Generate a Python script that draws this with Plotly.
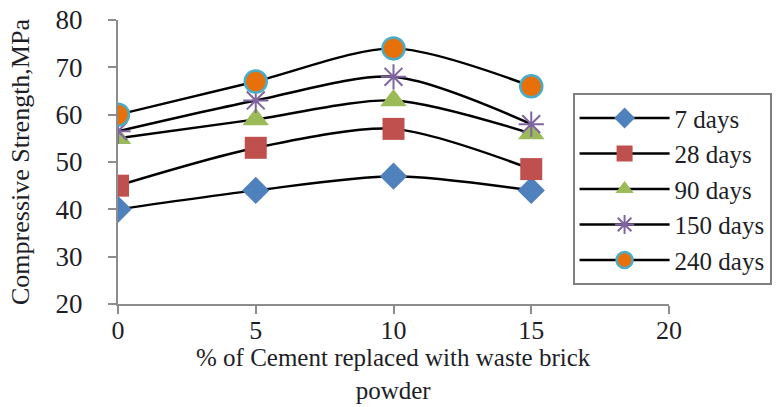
import plotly.graph_objects as go

# Cement replacement levels (%) and compressive strength (MPa) per curing age
replacement = [0, 5, 10, 15]
strength_7 = [40, 44, 47, 44]
strength_28 = [45, 53, 57, 48.5]
strength_90 = [55, 59, 63, 56]
strength_150 = [56.5, 63, 68, 58]
strength_240 = [60, 67, 74, 66]

series = [
    ("7 days", strength_7, dict(symbol="diamond", size=21, color="#4F81BD")),
    ("28 days", strength_28, dict(symbol="square", size=22, color="#C0504D")),
    ("90 days", strength_90, dict(symbol="triangle-up", size=23, color="#9BBB59")),
    ("150 days", strength_150, dict(symbol="asterisk-open", size=21, color="#8064A2",
                                    line=dict(color="#8064A2", width=2))),
    ("240 days", strength_240, dict(symbol="circle", size=22, color="#E8700A",
                                    line=dict(color="#4BACC6", width=2.5))),
]

fig = go.Figure()
for name, vals, marker in series:
    fig.add_trace(go.Scatter(
        x=replacement, y=vals, name=name, mode="lines+markers",
        line=dict(color="black", width=2.4, shape="spline", smoothing=0.8),
        marker=marker,
    ))

font_family = "Liberation Serif"
text_color = "#1e1e28"
axis_color = "#8c8c8c"

fig.update_layout(
    width=780, height=407,
    margin=dict(l=118, r=111, t=20, b=103, autoexpand=False),
    paper_bgcolor="white", plot_bgcolor="white",
    font=dict(family=font_family, size=26, color=text_color),
    showlegend=True,
    legend=dict(
        x=0.825, y=0.742, xanchor="left", yanchor="top",
        bordercolor="#7f7f7f", borderwidth=2,
        font=dict(family=font_family, size=25, color=text_color),
        itemwidth=90, tracegroupgap=0,
    ),
    xaxis=dict(
        range=[0, 20], tickvals=[0, 5, 10, 15, 20],
        showgrid=False, zeroline=False, automargin=False,
        showline=True, linecolor=axis_color, linewidth=2,
        ticks="outside", ticklen=8, tickcolor=axis_color, tickwidth=2,
        tickfont=dict(size=26), ticklabelstandoff=-6,
    ),
    yaxis=dict(
        range=[20, 80], tickvals=[20, 30, 40, 50, 60, 70, 80],
        showgrid=False, zeroline=False, automargin=False,
        showline=True, linecolor=axis_color, linewidth=2,
        ticks="outside", ticklen=8, tickcolor=axis_color, tickwidth=2,
        tickfont=dict(size=27), ticklabelstandoff=20,
        title=dict(text="Compressive Strength,MPa", font=dict(size=26), standoff=18),
    ),
    # x-axis title as a two-line caption below the tick labels
    annotations=[dict(
        text="% of Cement replaced with waste brick<br>powder",
        xref="paper", yref="paper", x=0.5, y=-0.245,
        xanchor="center", yanchor="middle", showarrow=False,
        font=dict(family=font_family, size=25, color=text_color),
    )],
)

fig.write_html("out.html")
